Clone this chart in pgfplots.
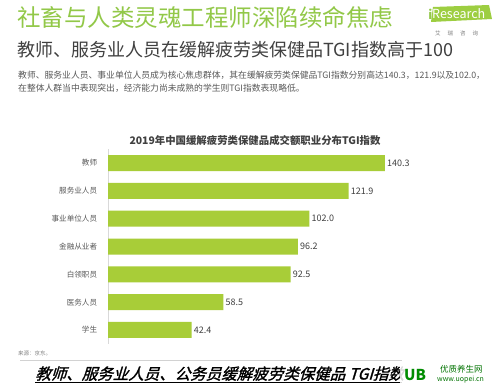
\documentclass[border=0pt]{standalone}
\usepackage{pgfplots}
\pgfplotsset{compat=1.18}
\usepackage{fontspec}
\setmainfont{Noto Sans CJK SC}
\newfontfamily\cjkit[FakeSlant=0.3,FakeBold=1.5]{Noto Sans CJK SC}
\definecolor{titlegreen}{RGB}{146,200,72}
\definecolor{bargreen}{RGB}{168,205,56}
\definecolor{darktext}{RGB}{64,64,64}
\definecolor{midtext}{RGB}{89,89,89}
\begin{document}
\begin{tikzpicture}[x=1pt,y=1pt]
\fill[white] (0,0) rectangle (500,389);
% header
\node[anchor=west,inner sep=0,text=titlegreen,font=\fontsize{23.5}{26}\selectfont] at (17,371) {社畜与人类灵魂工程师深陷续命焦虑};
\node[anchor=west,inner sep=0,text=darktext,font=\fontsize{18}{20}\selectfont] at (17,339) {教师、服务业人员在缓解疲劳类保健品TGI指数高于100};
\node[anchor=west,inner sep=0,text=midtext,font=\fontsize{8.8}{10}\selectfont] at (18,314) {教师、服务业人员、事业单位人员成为核心焦虑群体，其在缓解疲劳类保健品TGI指数分别高达140.3，121.9以及102.0，};
\node[anchor=west,inner sep=0,text=midtext,font=\fontsize{8.8}{10}\selectfont] at (18,301) {在整体人群当中表现突出，经济能力尚未成熟的学生则TGI指数表现略低。};
% iResearch logo
\fill[titlegreen!90!yellow] (431,367) -- (492,370) -- (489,384) -- (433,382) -- cycle;
\node[anchor=west,inner sep=0,text=white,font=\fontsize{12.5}{13}\selectfont] at (432,375) {Research};
\node[anchor=east,inner sep=0,text=titlegreen,font=\bfseries\fontsize{12.5}{13}\selectfont] at (432.5,375) {i};
\node[anchor=west,inner sep=0,text=gray,font=\fontsize{5.5}{6}\selectfont] at (435,356) {艾\hspace{7pt}瑞\hspace{7pt}咨\hspace{7pt}询};
% chart title
\node[inner sep=0,text=darktext,font=\bfseries\fontsize{10.4}{12}\selectfont] at (255,248) {2019年中国缓解疲劳类保健品成交额职业分布TGI指数};
\begin{axis}[
  at={(108pt,45.1pt)}, anchor=south west,
  scale only axis, width=355.3pt, height=194.8pt,
  xbar, bar width=16pt,
  xmin=0, xmax=180,
  ymin=-0.5, ymax=6.5, y dir=reverse,
  hide x axis,
  axis y line*=left,
  y axis line style={draw=gray!30,-},
  ytick={0,...,6},
  yticklabels={教师,服务业人员,事业单位人员,金融从业者,白领职员,医务人员,学生},
  ytick style={draw=none},
  yticklabel style={font=\fontsize{7.6}{8}\selectfont, text=midtext, xshift=-3pt},
  nodes near coords,
  every node near coord/.append style={font=\fontsize{9}{10}\selectfont, text=darktext, inner sep=2pt, anchor=west},
  point meta=explicit symbolic,
  /pgf/number format/assume math mode=true,
  clip=false,
]
\addplot[draw=none, fill=bargreen] coordinates {
 (140.3,0) [140.3]
 (121.9,1) [121.9]
 (102.0,2) [102.0]
 (96.2,3) [96.2]
 (92.5,4) [92.5]
 (58.5,5) [58.5]
 (42.4,6) [42.4]
};
\end{axis}
% source and footer
\node[anchor=west,inner sep=0,text=gray,font=\fontsize{5.5}{6}\selectfont] at (18,36) {来源：京东。};
\draw[gray!35,line width=0.8] (20,29) -- (402,29);
\node[anchor=base west,inner sep=0,text=black,font=\cjkit\fontsize{15.5}{16}\selectfont] at (35,9.5) {教师、服务业人员、公务员缓解疲劳类保健品 TGI指数};
\draw[black,line width=0.8] (35,6.5) -- (402,6.5);
% watermark
\fill[white,opacity=0.85] (400,2) rectangle (500,28);
\node[anchor=west,inner sep=0,text=green!55!black,font=\bfseries\fontsize{15}{16}\selectfont] at (404,14) {UB};
\node[anchor=west,inner sep=0,text=green!45!black,font=\fontsize{8.5}{9}\selectfont] at (440,20) {优质养生网};
\node[anchor=west,inner sep=0,text=green!45!black,font=\fontsize{7}{8}\selectfont] at (437,9) {www.uopei.cn};
\end{tikzpicture}
\end{document}
